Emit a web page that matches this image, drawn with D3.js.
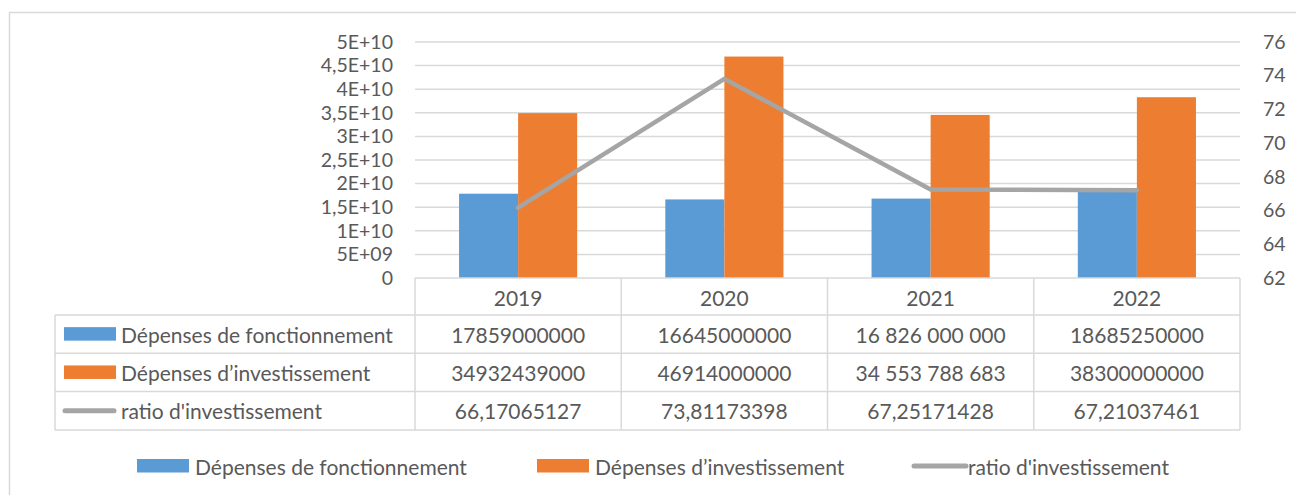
<!DOCTYPE html>
<head>
  <meta charset="utf-8">
  <script src="https://d3js.org/d3.v7.min.js"></script>
  <style>
    body { margin: 0; background: white; }
    text { font-family: Lato, "Open Sans", sans-serif; font-size: 21px; fill: #595959; }
    .grid line { stroke: #d9d9d9; stroke-width: 1.5px; }
    .tbl line { stroke: #d9d9d9; stroke-width: 1.5px; }
  </style>
</head>
<body>
  <script>
    // data
    const years = ["2019", "2020", "2021", "2022"];
    const fonctionnement = [17859000000, 16645000000, 16826000000, 18685250000];
    const investissement = [34932439000, 46914000000, 34553788683, 38300000000];
    const ratio = [66.17065127, 73.81173398, 67.25171428, 67.21037461];
    const fonctLabels = ["17859000000", "16645000000", "16 826 000 000", "18685250000"];
    const investLabels = ["34932439000", "46914000000", "34 553 788 683", "38300000000"];
    const ratioLabels = ["66,17065127", "73,81173398", "67,25171428", "67,21037461"];
    const seriesNames = ["Dépenses de fonctionnement", "Dépenses d\u2019investissement", "ratio d'investissement"];
    const leftTicks = [0, 5e9, 1e10, 1.5e10, 2e10, 2.5e10, 3e10, 3.5e10, 4e10, 4.5e10, 5e10];
    const rightTicks = [62, 64, 66, 68, 70, 72, 74, 76];

    const blue = "#5b9bd5", orange = "#ed7d31", grey = "#a5a5a5";

    const W = 1296, H = 495;
    const margin = {top: 42, left: 415, right: 56, bottom: 217};
    const width = W - margin.left - margin.right,
          height = H - margin.top - margin.bottom;

    const svg = d3.select("body").append("svg")
        .attr("width", W)
        .attr("height", H);

    // chart frame
    svg.append("rect")
        .attr("x", 9.5).attr("y", 12.5)
        .attr("width", W + 10).attr("height", H + 10)
        .attr("fill", "none")
        .attr("stroke", "#d9d9d9")
        .attr("stroke-width", 1.5);

    const g = svg.append("g")
        .attr("transform", "translate(" + margin.left + "," + margin.top + ")");

    const x0 = d3.scaleBand().domain(years).range([0, width]);
    const gapFrac = 0.2136;
    const x1 = d3.scaleBand().domain([0, 1])
        .range([x0.bandwidth() * gapFrac, x0.bandwidth() * (1 - gapFrac)]);
    const y = d3.scaleLinear().domain([0, 5e10]).range([height, 0]);
    const y2 = d3.scaleLinear().domain([62, 76]).range([height, 0]);

    function sci(v) {
        if (v === 0) return "0";
        const e = Math.floor(Math.log10(v) + 1e-9);
        const m = v / Math.pow(10, e);
        const ms = (Math.round(m * 10) / 10).toString().replace(".", ",");
        return ms + "E+" + (e < 10 ? "0" + e : e);
    }

    // gridlines
    g.append("g").attr("class", "grid")
        .selectAll("line")
        .data(leftTicks.slice(1))
        .enter().append("line")
        .attr("x1", 0).attr("x2", width)
        .attr("y1", d => y(d)).attr("y2", d => y(d));

    // left axis
    const yAxis = d3.axisLeft(y).tickValues(leftTicks).tickFormat(sci).tickSize(0).tickPadding(22);
    g.append("g").call(yAxis)
        .call(a => a.select(".domain").remove())
        .selectAll("text")
        .style("font-size", "19.5px").style("fill", "#595959")
        .style("font-family", "Lato, sans-serif");

    // right axis
    const y2Axis = d3.axisRight(y2).tickValues(rightTicks).tickSize(0).tickPadding(23);
    g.append("g").attr("transform", "translate(" + width + ",0)").call(y2Axis)
        .call(a => a.select(".domain").remove())
        .selectAll("text")
        .style("font-size", "19.5px").style("fill", "#595959")
        .style("font-family", "Lato, sans-serif");

    // bars
    const barData = years.map((yr, i) => ({year: yr, vals: [fonctionnement[i], investissement[i]]}));
    const grp = g.selectAll(".yr")
        .data(barData)
        .enter().append("g")
        .attr("class", "yr")
        .attr("transform", d => "translate(" + x0(d.year) + ",0)");
    grp.selectAll("rect")
        .data(d => d.vals.map((v, k) => ({k: k, v: v})))
        .enter().append("rect")
        .attr("x", d => x1(d.k))
        .attr("width", x1.bandwidth())
        .attr("y", d => y(d.v))
        .attr("height", d => height - y(d.v))
        .attr("fill", d => d.k === 0 ? blue : orange);

    // ratio line
    const line = d3.line()
        .x((d, i) => x0(years[i]) + x0.bandwidth() / 2)
        .y(d => y2(d));
    g.append("path")
        .datum(ratio)
        .attr("d", line)
        .attr("fill", "none")
        .attr("stroke", grey)
        .attr("stroke-width", 4.5)
        .attr("stroke-linejoin", "round")
        .attr("stroke-linecap", "round");

    // data table
    const tblLeft = 55 - margin.left;
    const headerH = 37, rowH = 38.3;
    const tbl = g.append("g").attr("class", "tbl").attr("transform", "translate(0," + height + ")");
    const bounds = years.map(yr => x0(yr)).concat([width]);

    // horizontal lines
    tbl.append("line").attr("x1", 0).attr("x2", width).attr("y1", 0).attr("y2", 0);
    [0, 1, 2, 3].forEach(r => {
        const yy = headerH + r * rowH;
        tbl.append("line").attr("x1", tblLeft).attr("x2", width).attr("y1", yy).attr("y2", yy);
    });
    // vertical lines
    bounds.forEach(bx => {
        tbl.append("line").attr("x1", bx).attr("x2", bx).attr("y1", 0).attr("y2", headerH + 3 * rowH);
    });
    tbl.append("line").attr("x1", tblLeft).attr("x2", tblLeft).attr("y1", headerH).attr("y2", headerH + 3 * rowH);

    // header
    tbl.selectAll(".hdr")
        .data(years)
        .enter().append("text")
        .attr("class", "hdr")
        .attr("x", d => x0(d) + x0.bandwidth() / 2)
        .attr("y", headerH / 2 + 1)
        .attr("text-anchor", "middle")
        .attr("dominant-baseline", "central")
        .text(d => d);

    const rows = [fonctLabels, investLabels, ratioLabels];
    rows.forEach((labels, r) => {
        const cy = headerH + r * rowH + rowH / 2;
        tbl.selectAll(".cell" + r)
            .data(labels)
            .enter().append("text")
            .attr("x", (d, i) => x0(years[i]) + x0.bandwidth() / 2)
            .attr("y", cy)
            .attr("text-anchor", "middle")
            .attr("dominant-baseline", "central")
            .text(d => d);
        // key
        if (r < 2) {
            tbl.append("rect")
                .attr("x", tblLeft + 9).attr("y", cy - 7)
                .attr("width", 52).attr("height", 13.5)
                .attr("fill", r === 0 ? blue : orange);
        } else {
            tbl.append("line")
                .attr("x1", tblLeft + 10).attr("x2", tblLeft + 59)
                .attr("y1", cy).attr("y2", cy)
                .style("stroke", grey).style("stroke-width", 5).style("stroke-linecap", "round");
        }
        tbl.append("text")
            .attr("x", tblLeft + 66)
            .attr("y", cy)
            .attr("dominant-baseline", "central")
            .text(seriesNames[r]);
    });

    // bottom legend
    const legY = 466;
    const legX = [137, 537, 912];
    const leg = svg.append("g");
    seriesNames.forEach((name, i) => {
        if (i < 2) {
            leg.append("rect")
                .attr("x", legX[i]).attr("y", legY - 7)
                .attr("width", 52).attr("height", 13.5)
                .attr("fill", i === 0 ? blue : orange);
        } else {
            leg.append("line")
                .attr("x1", legX[i] + 2).attr("x2", legX[i] + 54)
                .attr("y1", legY).attr("y2", legY)
                .attr("stroke", grey).attr("stroke-width", 5).attr("stroke-linecap", "round");
        }
        leg.append("text")
            .attr("x", legX[i] + (i < 2 ? 58 : 56))
            .attr("y", legY)
            .attr("dominant-baseline", "central")
            .text(name);
    });
  </script>
</body>
